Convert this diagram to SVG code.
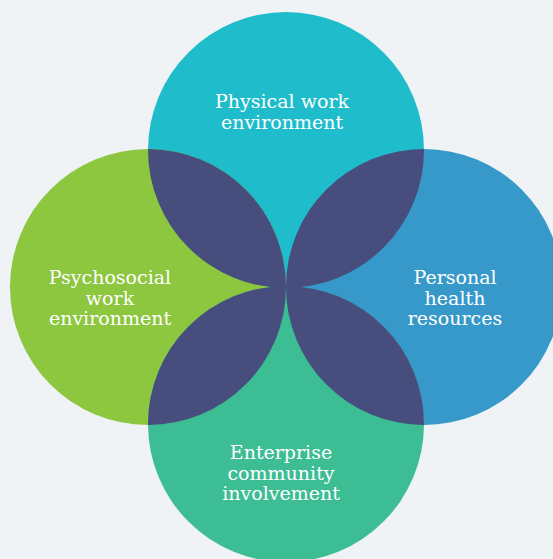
<svg xmlns="http://www.w3.org/2000/svg" width="553" height="559" viewBox="0 0 553 559">
<style>
.lbl{font-family:"DejaVu Serif","Liberation Serif",serif;font-size:19px;fill:#ffffff;text-anchor:middle}
.lens{fill:#474e7d}
</style>
<defs>
<clipPath id="cTop"><circle cx="286" cy="150" r="138"/></clipPath>
<clipPath id="cBot"><circle cx="286" cy="424" r="138"/></clipPath>
</defs>
<rect width="553" height="559" fill="#eff3f6"/>
<g id="node-top"><circle cx="286" cy="150" r="138" fill="#1fbdcb"/></g>
<g id="node-left"><circle cx="148" cy="287" r="138" fill="#8dc63f"/></g>
<g id="node-right"><circle cx="424" cy="287" r="138" fill="#3799c9"/></g>
<g id="node-bottom"><circle cx="286" cy="424" r="138" fill="#3dbd93"/></g>
<g id="overlaps">
<g clip-path="url(#cTop)"><circle class="lens" cx="148" cy="287" r="138"/><circle class="lens" cx="424" cy="287" r="138"/></g>
<g clip-path="url(#cBot)"><circle class="lens" cx="148" cy="287" r="138"/><circle class="lens" cx="424" cy="287" r="138"/></g>
</g>
<g id="labels">
<text class="lbl" x="282" y="108">Physical work</text>
<text class="lbl" x="282" y="129">environment</text>
<text class="lbl" x="110" y="284">Psychosocial</text>
<text class="lbl" x="110" y="305">work</text>
<text class="lbl" x="110" y="325">environment</text>
<text class="lbl" x="455" y="284">Personal</text>
<text class="lbl" x="455" y="305">health</text>
<text class="lbl" x="455" y="325">resources</text>
<text class="lbl" x="281" y="459">Enterprise</text>
<text class="lbl" x="281" y="480">community</text>
<text class="lbl" x="281" y="500">involvement</text>
</g>
</svg>
